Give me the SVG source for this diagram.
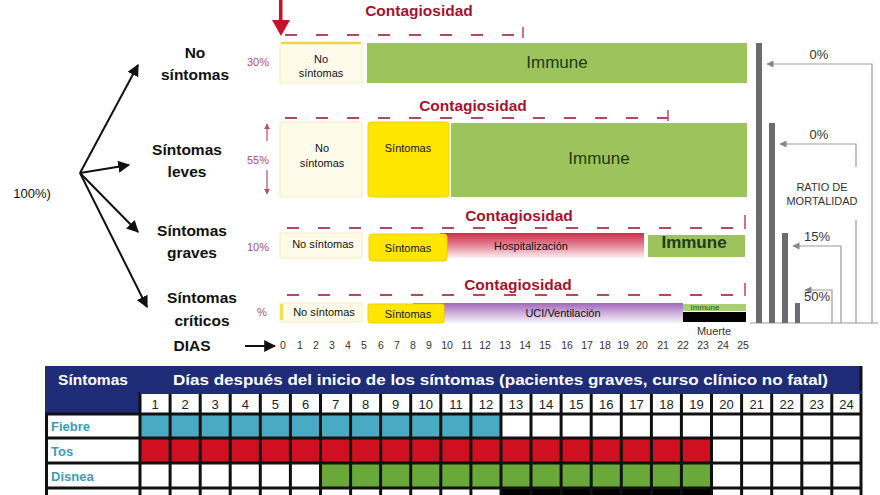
<svg xmlns="http://www.w3.org/2000/svg" width="880" height="495" viewBox="0 0 880 495">
<defs>
<style>
.lbl{font-family:"Liberation Sans",Arial,sans-serif;font-weight:bold;font-size:15.5px;fill:#111;text-anchor:middle}
.cont{font-family:"Liberation Sans",Arial,sans-serif;font-weight:bold;font-size:15.5px;fill:#a3142f;text-anchor:middle}
.sm{font-family:"Liberation Sans",Arial,sans-serif;font-size:11px;fill:#111;text-anchor:middle}
.pct{font-family:"Liberation Sans",Arial,sans-serif;font-size:11px;fill:#b0506c;text-anchor:middle}
.imm{font-family:"Liberation Sans",Arial,sans-serif;font-size:17px;fill:#1f3a18;text-anchor:middle}
.gr{font-family:"Liberation Sans",Arial,sans-serif;font-size:11px;fill:#333;text-anchor:middle}
.mort{font-family:"Liberation Sans",Arial,sans-serif;font-size:13px;fill:#333;text-anchor:middle}
.day{font-family:"Liberation Sans",Arial,sans-serif;font-size:10.5px;fill:#333;text-anchor:middle}
.th{font-family:"Liberation Sans",Arial,sans-serif;font-weight:bold;font-size:15.5px;fill:#fff}
.td{font-family:"Liberation Sans",Arial,sans-serif;font-size:13px;fill:#222;text-anchor:middle}
.rl{font-family:"Liberation Sans",Arial,sans-serif;font-weight:bold;font-size:13px;fill:#3b9db6}
.dash{fill:none;stroke:#b5485f;stroke-width:2;stroke-dasharray:12 19}
.tick{fill:none;stroke:#b5485f;stroke-width:1.5}
.pale{fill:#fffbea;stroke:#f6eeb8;stroke-width:1}
.yel{fill:#ffe600;stroke:#f1d000;stroke-width:1}
.grn{fill:#9cc35c}
.bar{fill:#6b6b70}
.arr{fill:none;stroke:#111;stroke-width:2}
.garr{fill:none;stroke:#999;stroke-width:1.2}
.grid{stroke:#111;stroke-width:3}
</style>
<marker id="ah" viewBox="0 0 10 10" refX="9" refY="5" markerWidth="6" markerHeight="6" orient="auto" markerUnits="strokeWidth"><path d="M0,0 L10,5 L0,10 z" fill="#111"/></marker>
<marker id="gh" viewBox="0 0 10 10" refX="9" refY="5" markerWidth="8" markerHeight="6" orient="auto" markerUnits="strokeWidth"><path d="M0,0 L10,5 L0,10 z" fill="#888"/></marker>
<marker id="ph" viewBox="0 0 10 10" refX="9" refY="5" markerWidth="5" markerHeight="5" orient="auto" markerUnits="strokeWidth"><path d="M0,0 L10,5 L0,10 z" fill="#b0506c"/></marker>
<linearGradient id="hosp" x1="0" y1="0" x2="0" y2="1"><stop offset="0" stop-color="#cf2b4a"/><stop offset="0.45" stop-color="#e47b8f"/><stop offset="1" stop-color="#fdf0f3"/></linearGradient>
<linearGradient id="uci" x1="0" y1="0" x2="0" y2="1"><stop offset="0" stop-color="#a066b8"/><stop offset="0.5" stop-color="#cfb0dc"/><stop offset="1" stop-color="#f8f3fa"/></linearGradient>
</defs>
<rect width="880" height="495" fill="#fff"/>

<g id="origin"><text x="32" y="198" font-family="Liberation Sans,Arial,sans-serif" font-size="13" fill="#111" text-anchor="middle">100%)</text></g>

<g id="connectors">
<line class="arr" x1="80" y1="173" x2="138" y2="65" marker-end="url(#ah)"/>
<line class="arr" x1="80" y1="173" x2="129" y2="165" marker-end="url(#ah)"/>
<line class="arr" x1="80" y1="173" x2="138" y2="232" marker-end="url(#ah)"/>
<line class="arr" x1="80" y1="173" x2="147" y2="307" marker-end="url(#ah)"/>
<line class="arr" x1="245" y1="346" x2="275" y2="346" stroke-width="1.6" marker-end="url(#ah)"/>
<path class="garr" d="M872,323 V64 H767" marker-end="url(#gh)"/>
<path class="garr" d="M856,167 V144 H780" marker-end="url(#gh)"/>
<path class="garr" d="M856,220 V323"/>
<path class="garr" d="M841,323 V246 H793" marker-end="url(#gh)"/>
<path class="garr" d="M832,323 V290 H805" marker-end="url(#gh)"/>
<path class="garr" d="M750,323 H878" stroke="#bbb"/>
<line x1="267" y1="141" x2="267" y2="124" stroke="#b0506c" stroke-width="1.2" marker-end="url(#ph)"/>
<line x1="267" y1="170" x2="267" y2="194" stroke="#b0506c" stroke-width="1.2" marker-end="url(#ph)"/>
</g>

<g id="red-arrow"><rect x="279" y="0" width="3.5" height="22" fill="#c8102e"/><polygon points="272,20 290,20 281,36" fill="#c8102e"/></g>

<g id="no-sintomas">
<text class="lbl" x="195" y="58">No</text><text class="lbl" x="195" y="80">síntomas</text>
<text class="pct" x="258" y="66">30%</text>
<text class="cont" x="419" y="16">Contagiosidad</text>
<line class="dash" x1="285" y1="35" x2="523" y2="35"/><line class="tick" x1="523" y1="27" x2="523" y2="38"/>
<rect class="pale" x="280" y="43" width="82" height="40"/><line x1="281" y1="43" x2="361" y2="43" stroke="#f2d648" stroke-width="2.5"/>
<text class="sm" x="321" y="63">No</text><text class="sm" x="321" y="77">síntomas</text>
<rect class="grn" x="367" y="43" width="380" height="40"/>
<text class="imm" x="557" y="68">Immune</text>
</g>

<g id="sintomas-leves">
<text class="lbl" x="187" y="155">Síntomas</text><text class="lbl" x="187" y="177">leves</text>
<text class="pct" x="258" y="164">55%</text>
<text class="cont" x="473" y="111">Contagiosidad</text>
<line class="dash" x1="285" y1="118" x2="668" y2="118"/><line class="tick" x1="668" y1="110" x2="668" y2="121"/>
<rect class="pale" x="280" y="122" width="82" height="75"/>
<text class="sm" x="322" y="152">No</text><text class="sm" x="322" y="167">síntomas</text>
<rect class="yel" x="368" y="122" width="81" height="75" rx="3"/>
<text class="sm" x="408" y="152">Síntomas</text>
<rect class="grn" x="451" y="123" width="296" height="74"/>
<text class="imm" x="599" y="164">Immune</text>
</g>

<g id="sintomas-graves">
<text class="lbl" x="192" y="236">Síntomas</text><text class="lbl" x="192" y="258">graves</text>
<text class="pct" x="258" y="251">10%</text>
<text class="cont" x="519" y="221">Contagiosidad</text>
<line class="dash" x1="287" y1="228" x2="745" y2="228"/><line class="tick" x1="745" y1="215" x2="745" y2="229"/>
<rect class="pale" x="280" y="233" width="82" height="25"/>
<text class="sm" x="323" y="248">No síntomas</text>
<rect x="440" y="233" width="204" height="25" fill="url(#hosp)"/>
<rect class="yel" x="369" y="234" width="78" height="27" rx="3"/>
<text class="sm" x="408" y="252">Síntomas</text>
<text class="sm" x="531" y="250">Hospitalización</text>
<rect class="grn" x="648" y="235" width="97" height="22"/>
<text class="imm" x="694" y="248" font-size="13.5" font-weight="bold">Immune</text>
</g>

<g id="sintomas-criticos">
<text class="lbl" x="202" y="303">Síntomas</text><text class="lbl" x="202" y="326">críticos</text>
<text class="pct" x="262" y="316">%</text>
<text class="cont" x="518" y="290">Contagiosidad</text>
<line class="dash" x1="287" y1="295" x2="745" y2="295"/><line class="tick" x1="745" y1="283" x2="745" y2="296"/>
<rect class="pale" x="280" y="303" width="82" height="19"/>
<rect x="280" y="304" width="3" height="16" fill="#f2de55"/>
<text class="sm" x="324" y="316">No síntomas</text>
<rect x="413" y="303" width="270" height="20" fill="url(#uci)"/>
<rect class="yel" x="368" y="304" width="76" height="19" rx="2"/>
<text class="sm" x="408" y="318">Síntomas</text>
<text class="sm" x="563" y="317">UCI/Ventilación</text>
<rect x="683" y="304" width="63" height="7" fill="#a8d070"/>
<text x="705" y="310" font-family="Liberation Sans,Arial,sans-serif" font-size="8" fill="#2c5a1c" text-anchor="middle">Immune</text>
<rect x="683" y="312" width="63" height="10" fill="#000"/>
<text class="gr" x="714" y="335" font-size="10">Muerte</text>
</g>

<g id="dias">
<text class="lbl" x="192" y="351" font-size="15">DIAS</text>
<text class="day" y="349"><tspan x="283">0</tspan><tspan x="300">1</tspan><tspan x="316">2</tspan><tspan x="332">3</tspan><tspan x="348">4</tspan><tspan x="364">5</tspan><tspan x="381">6</tspan><tspan x="397">7</tspan><tspan x="413">8</tspan><tspan x="429">9</tspan><tspan x="447">10</tspan><tspan x="467">11</tspan><tspan x="485">12</tspan><tspan x="505">13</tspan><tspan x="525">14</tspan><tspan x="545">15</tspan><tspan x="567">16</tspan><tspan x="587">17</tspan><tspan x="605">18</tspan><tspan x="623">19</tspan><tspan x="642">20</tspan><tspan x="663">21</tspan><tspan x="683">22</tspan><tspan x="703">23</tspan><tspan x="723">24</tspan><tspan x="743">25</tspan></text>
</g>

<g id="mortalidad">
<rect class="bar" x="756" y="43" width="6" height="280"/>
<rect class="bar" x="769" y="123" width="6" height="200"/>
<rect class="bar" x="782" y="233" width="6" height="90"/>
<rect class="bar" x="795" y="303" width="5" height="20"/>
<text class="mort" x="819" y="59">0%</text>
<text class="mort" x="819" y="139">0%</text>
<text class="gr" x="822" y="191" font-size="9.5">RATIO DE</text>
<text class="gr" x="822" y="205" font-size="9.5">MORTALIDAD</text>
<text class="mort" x="817" y="241" font-size="10.5">15%</text>
<text class="mort" x="817" y="301" font-size="10">50%</text>
</g>

<g id="tabla">
<rect x="45" y="366" width="817" height="129" fill="#111"/>
<rect x="45" y="366" width="817" height="26" fill="#1f2c78"/>
<rect x="45" y="366" width="95" height="48" fill="#1f2c78"/>
<rect x="140" y="392" width="722" height="103" fill="#fff"/>
<rect x="48" y="414" width="92" height="81" fill="#fff"/>
<rect x="140" y="414" width="361" height="24" fill="#49abc3"/>
<rect x="140" y="438" width="571.5" height="25" fill="#cf1020"/>
<rect x="320.5" y="463" width="391" height="25" fill="#6aa83a"/>
<rect x="501" y="488" width="210.5" height="7" fill="#000"/>
<g class="grid">
<line x1="140" y1="392" x2="140" y2="495"/><line x1="170.1" y1="392" x2="170.1" y2="495"/><line x1="200.2" y1="392" x2="200.2" y2="495"/><line x1="230.2" y1="392" x2="230.2" y2="495"/><line x1="260.3" y1="392" x2="260.3" y2="495"/><line x1="290.4" y1="392" x2="290.4" y2="495"/><line x1="320.5" y1="392" x2="320.5" y2="495"/><line x1="350.6" y1="392" x2="350.6" y2="495"/><line x1="380.6" y1="392" x2="380.6" y2="495"/><line x1="410.7" y1="392" x2="410.7" y2="495"/><line x1="440.8" y1="392" x2="440.8" y2="495"/><line x1="470.9" y1="392" x2="470.9" y2="495"/><line x1="501" y1="392" x2="501" y2="495"/><line x1="531" y1="392" x2="531" y2="495"/><line x1="561.1" y1="392" x2="561.1" y2="495"/><line x1="591.2" y1="392" x2="591.2" y2="495"/><line x1="621.3" y1="392" x2="621.3" y2="495"/><line x1="651.4" y1="392" x2="651.4" y2="495"/><line x1="681.4" y1="392" x2="681.4" y2="495"/><line x1="711.5" y1="392" x2="711.5" y2="495"/><line x1="741.6" y1="392" x2="741.6" y2="495"/><line x1="771.7" y1="392" x2="771.7" y2="495"/><line x1="801.8" y1="392" x2="801.8" y2="495"/><line x1="831.8" y1="392" x2="831.8" y2="495"/><line x1="861" y1="366" x2="861" y2="495"/>
<line x1="140" y1="392.5" x2="862" y2="392.5" stroke="#1f2c78"/>
<line x1="45" y1="414" x2="862" y2="414"/><line x1="45" y1="438" x2="862" y2="438"/><line x1="45" y1="463" x2="862" y2="463"/><line x1="45" y1="488" x2="862" y2="488"/>
</g>
<text class="th" x="93" y="385" text-anchor="middle">Síntomas</text>
<text class="th" x="173" y="385" textLength="655" lengthAdjust="spacingAndGlyphs">Días después del inicio de los síntomas (pacientes graves, curso clínico no fatal)</text>
<text class="td" y="409"><tspan x="155">1</tspan><tspan x="185.1">2</tspan><tspan x="215.2">3</tspan><tspan x="245.3">4</tspan><tspan x="275.4">5</tspan><tspan x="305.5">6</tspan><tspan x="335.6">7</tspan><tspan x="365.6">8</tspan><tspan x="395.7">9</tspan><tspan x="425.8">10</tspan><tspan x="455.9">11</tspan><tspan x="486">12</tspan><tspan x="516">13</tspan><tspan x="546.1">14</tspan><tspan x="576.2">15</tspan><tspan x="606.3">16</tspan><tspan x="636.4">17</tspan><tspan x="666.4">18</tspan><tspan x="696.5">19</tspan><tspan x="726.6">20</tspan><tspan x="756.7">21</tspan><tspan x="786.8">22</tspan><tspan x="816.8">23</tspan><tspan x="846.4">24</tspan></text>
<text class="rl" x="51" y="431">Fiebre</text>
<text class="rl" x="51" y="456">Tos</text>
<text class="rl" x="51" y="481">Disnea</text>
</g>
</svg>
